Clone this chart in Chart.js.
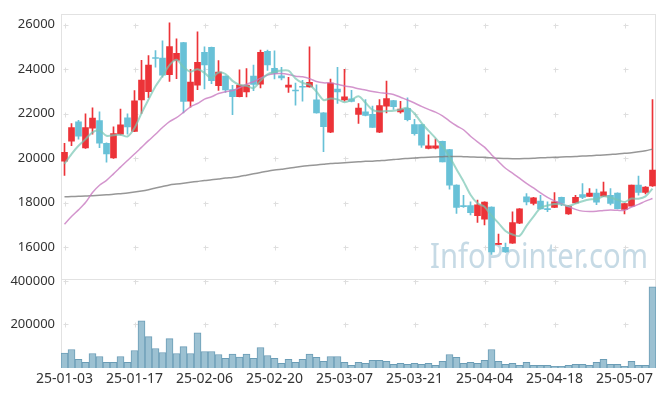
<!DOCTYPE html>
<html>
<head>
<meta charset="utf-8">
<script src="https://cdn.jsdelivr.net/npm/chart.js@4.4.1/dist/chart.umd.min.js"></script>
<style>
  html, body { margin:0; padding:0; background:#fff; }
  #wrap { position:relative; width:665px; height:396px; }
</style>
</head>
<body>
<div id="wrap"><canvas id="chart" width="665" height="396"></canvas></div>
<script>
/* ══════════════════════════════════════
   DATA — daily candles + moving averages
══════════════════════════════════════ */

const dates = [
  '25-01-03','25-01-06','25-01-07','25-01-08','25-01-09','25-01-10','25-01-13','25-01-14','25-01-15','25-01-16',
  '25-01-17','25-01-20','25-01-21','25-01-22','25-01-23','25-01-24','25-01-31','25-02-03','25-02-04','25-02-05',
  '25-02-06','25-02-07','25-02-10','25-02-11','25-02-12','25-02-13','25-02-14','25-02-17','25-02-18','25-02-19',
  '25-02-20','25-02-21','25-02-24','25-02-25','25-02-26','25-02-27','25-02-28','25-03-04','25-03-05','25-03-06',
  '25-03-07','25-03-10','25-03-11','25-03-12','25-03-13','25-03-14','25-03-17','25-03-18','25-03-19','25-03-20',
  '25-03-21','25-03-24','25-03-25','25-03-26','25-03-27','25-03-28','25-03-31','25-04-01','25-04-02','25-04-03',
  '25-04-04','25-04-07','25-04-08','25-04-09','25-04-10','25-04-11','25-04-14','25-04-15','25-04-16','25-04-17',
  '25-04-18','25-04-21','25-04-22','25-04-23','25-04-24','25-04-25','25-04-28','25-04-29','25-04-30','25-05-02',
  '25-05-07','25-05-08','25-05-09','25-05-12','25-05-13'
];

const opens = [
  19870,20770,21640,20460,21350,21690,20670,20010,21080,21820,
  21210,22620,22990,24500,24500,23750,24400,25200,22560,23280,
  24760,24980,23260,23690,23080,22770,22980,23690,23330,24800,
  24040,23700,23190,23050,23210,23200,22620,22040,21170,23110,
  22620,22670,21970,22090,21970,21170,22340,22590,22080,22240,
  21510,21510,20440,20450,20760,20390,18800,17850,17870,17420,
  17260,17810,16130,16000,16190,17080,18270,17970,18080,17710,
  17790,18250,17500,17990,18370,18280,18440,18300,18340,18440,
  17700,17850,18800,18460,18760
];
const highs = [
  20670,21560,21700,22000,22270,22090,20690,21410,22210,22000,
  23040,24400,24610,24840,25280,26080,25360,25210,23990,25680,
  25010,24990,24390,23700,23280,23970,24030,24190,24860,24860,
  24830,24080,23630,23380,23500,25010,23300,22050,23560,24080,
  24000,23050,22460,22640,22340,22640,23470,22600,22560,22710,
  21750,21520,21050,20860,20770,20400,18810,18340,18040,18120,
  18040,17820,16590,16190,17590,17740,18410,18240,18340,18040,
  18460,18260,17870,18340,18860,18640,18610,18930,18640,18450,
  17970,18800,19200,18730,22640
];
const lows = [
  19230,20570,20860,20440,21080,20480,19820,19990,21050,21080,
  21190,22010,22720,24090,23640,23450,23570,22040,22300,23080,
  23110,23350,23050,22960,21960,22750,22760,23040,23160,23940,
  23560,23520,22960,22390,22560,23190,22030,20300,21150,22460,
  22560,22530,21570,21900,21380,21150,22040,22190,22030,21680,
  21040,20490,20420,20420,19830,18610,17520,17790,17450,17120,
  17010,15680,16120,15770,16170,17060,17900,17900,17710,17600,
  17780,17870,17480,17980,18190,18270,17910,18290,17900,17720,
  17500,17840,18340,18400,18740
];
const closes = [
  20270,21380,20990,21380,21810,20680,20190,21110,21500,21410,
  22580,23510,24180,24480,23730,25020,24710,22550,23420,24310,
  24190,23480,23870,23070,22770,23290,23290,23320,24760,24190,
  23820,23610,23290,23020,23190,23410,22040,21420,23380,22980,
  22760,22550,22250,21920,21390,22370,22680,22320,22210,21730,
  21100,20590,20560,20560,19840,18790,17790,17830,17560,17910,
  18030,15790,16150,15790,17110,17730,18040,18220,17720,17690,
  18040,17970,17850,18250,18240,18440,18030,18490,17970,17730,
  17960,18790,18460,18710,19470
];

const volumes = [
  68000,85000,39500,26000,66600,53000,26000,26000,53000,26000,
  80300,216700,144000,89400,71200,135000,66600,98500,66600,162000,
  75800,75800,62100,44000,63600,50000,63600,44000,94000,57600,
  44000,21200,39400,26000,39400,63600,48500,30300,53000,53000,
  26000,12100,26000,21200,35000,35000,30300,16700,21200,16700,
  21200,16700,21200,12100,30300,62100,48500,21200,26000,21200,
  35000,85000,30300,16700,21200,12100,26000,12100,12100,12100,
  7600,7600,12100,16700,16700,12100,26000,39400,16700,16700,
  7600,30300,12100,12100,372700
];

const ma5 = [
  19750,20190,20560,20860,21166,21248,21010,21034,21058,20978,
  21358,22022,22636,23232,23696,24184,24424,24098,23886,24002,
  23836,23590,23854,23784,23476,23296,23258,23148,23486,23770,
  23876,23940,23934,23586,23386,23304,22990,22616,22688,22646,
  22516,22618,22784,22492,22174,22096,22122,22136,22194,22262,
  22008,21590,21238,20908,20530,20068,19508,18962,18362,17976,
  17824,17424,17088,16734,16574,16514,16964,17378,17764,17880,
  17942,17928,17854,17960,18070,18150,18162,18290,18234,18132,
  18036,18188,18180,18288,18636
];
const ma20 = [
  17040,17380,17680,18010,18460,18790,19010,19300,19600,19900,
  20190,20490,20790,21080,21380,21650,21820,22060,22310,22460,
  22657,22762,22906,22990,23038,23169,23324,23434,23597,23736,
  23798,23803,23759,23686,23659,23578,23445,23388,23386,23320,
  23248,23202,23121,23063,22994,22948,22918,22868,22740,22617,
  22481,22330,22194,22071,21903,21672,21460,21280,20989,20736,
  20499,20161,19856,19550,19336,19104,18872,18667,18442,18240,
  18087,17956,17821,17705,17625,17608,17620,17653,17673,17664,
  17661,17811,17926,18072,18190
];
const ma120 = [
  18270,18280,18290,18300,18320,18340,18360,18380,18410,18440,
  18480,18530,18590,18660,18730,18800,18840,18880,18920,18960,
  19000,19030,19070,19110,19140,19180,19240,19300,19360,19420,
  19470,19510,19550,19600,19640,19670,19700,19730,19760,19780,
  19800,19820,19840,19860,19870,19890,19910,19940,19970,19990,
  20010,20030,20050,20060,20070,20080,20080,20070,20060,20050,
  20040,20020,20000,19990,19980,19980,19990,20000,20020,20030,
  20040,20060,20070,20080,20100,20110,20130,20150,20170,20190,
  20220,20250,20290,20340,20410
];

const priceTicks = [16000, 18000, 20000, 22000, 24000, 26000];
const volTicks   = [200000, 400000];

/* ── styling ── */
const UP   = '#ec3338';
const DOWN = '#68c1d7';
const candleColors = closes.map((c, i) => c >= opens[i] ? UP : DOWN);
const tickFont = { family: '"Noto Sans", sans-serif', size: 13 };

// grid crosses, panel frame and watermark
const decor = {
  id: 'decor',
  beforeDatasetsDraw(chart) {
    const { ctx, chartArea: a, scales } = chart;
    const x = scales.x, y = scales.y, yv = scales.yv;
    ctx.save();

    ctx.fillStyle = 'rgba(184,209,223,0.8)';
    ctx.font = '34px "Noto Sans", sans-serif';
    ctx.textAlign = 'right';
    ctx.textBaseline = 'alphabetic';
    ctx.fillText('InfoPointer.com', a.right - 8, y.bottom - 11, 218);

    ctx.strokeStyle = '#dedede';
    ctx.lineWidth = 1;
    const cross = (px, py) => {
      px = Math.round(px) + 0.5; py = Math.round(py) + 0.5;
      ctx.beginPath();
      ctx.moveTo(px - 2, py); ctx.lineTo(px + 3, py);
      ctx.moveTo(px, py - 2); ctx.lineTo(px, py + 3);
      ctx.stroke();
    };
    for (let i = 0; i < dates.length; i += 10) {
      const px = x.getPixelForValue(i);
      priceTicks.forEach(v => cross(px, y.getPixelForValue(v)));
      volTicks.forEach(v => cross(px, yv.getPixelForValue(v)));
    }

    ctx.strokeStyle = '#e2e2e2';
    ctx.strokeRect(Math.round(a.left) + 0.5, Math.round(a.top) + 0.5, Math.round(a.width) - 1, Math.round(a.height) - 1);
    ctx.beginPath();
    ctx.moveTo(a.left, Math.round(yv.top) + 0.5);
    ctx.lineTo(a.right, Math.round(yv.top) + 0.5);
    ctx.stroke();
    ctx.restore();
  }
};

const ctx = document.getElementById('chart').getContext('2d');
new Chart(ctx, {
  type: 'bar',
  data: {
    labels: dates,
    datasets: [
      { type: 'line', label: 'MA5', data: ma5, yAxisID: 'y', borderColor: 'rgba(120,198,180,0.7)', borderWidth: 2, pointRadius: 0, tension: 0.3, order: 0 },
      { type: 'line', label: 'MA20', data: ma20, yAxisID: 'y', borderColor: 'rgba(200,122,192,0.8)', borderWidth: 1.5, pointRadius: 0, tension: 0.3, order: 0 },
      { type: 'line', label: 'MA120', data: ma120, yAxisID: 'y', borderColor: 'rgba(125,125,125,0.8)', borderWidth: 1.5, pointRadius: 0, tension: 0.3, order: 0 },
      { label: 'body', data: opens.map((o, i) => [o, closes[i]]), yAxisID: 'y', backgroundColor: candleColors, barThickness: 6, minBarLength: 1, grouped: false, order: 1 },
      { label: 'wick', data: lows.map((l, i) => [l, highs[i]]), yAxisID: 'y', backgroundColor: candleColors, barThickness: 1, grouped: false, order: 2 },
      { label: 'volume', data: volumes, yAxisID: 'yv', backgroundColor: '#9cc1d2', borderColor: '#6b9db6', borderWidth: 1, barPercentage: 1, categoryPercentage: 1, grouped: false, order: 3 }
    ]
  },
  options: {
    responsive: false,
    animation: false,
    layout: { padding: { top: 10, right: 9, left: 0, bottom: 0 } },
    plugins: { legend: { display: false }, tooltip: { enabled: false } },
    scales: {
      x: {
        offset: true,
        grid: { display: false, drawTicks: false },
        border: { display: false },
        ticks: {
          autoSkip: false, maxRotation: 0, minRotation: 0, padding: 3,
          color: '#333', font: { family: '"Noto Sans", sans-serif', size: 14 },
          callback: (v, i) => i % 10 === 0 ? dates[i] : ''
        },
        afterFit: s => { s.height = 28; }
      },
      y: {
        position: 'left', stack: 'panels', stackWeight: 268, weight: 2,
        min: 14578, max: 26489,
        grid: { display: false, drawTicks: false },
        border: { display: false },
        ticks: { padding: 6, color: '#333', font: tickFont, callback: v => String(v) },
        afterBuildTicks: s => { s.ticks = priceTicks.map(v => ({ value: v })); },
        afterFit: s => { s.width = 61; }
      },
      yv: {
        position: 'left', stack: 'panels', stackWeight: 90, weight: 1,
        min: 0, max: 409000,
        grid: { display: false, drawTicks: false },
        border: { display: false },
        ticks: { padding: 6, color: '#333', font: tickFont, callback: v => String(v) },
        afterBuildTicks: s => { s.ticks = volTicks.map(v => ({ value: v })); },
        afterFit: s => { s.width = 61; }
      }
    }
  },
  plugins: [decor]
});
</script>
</body>
</html>
